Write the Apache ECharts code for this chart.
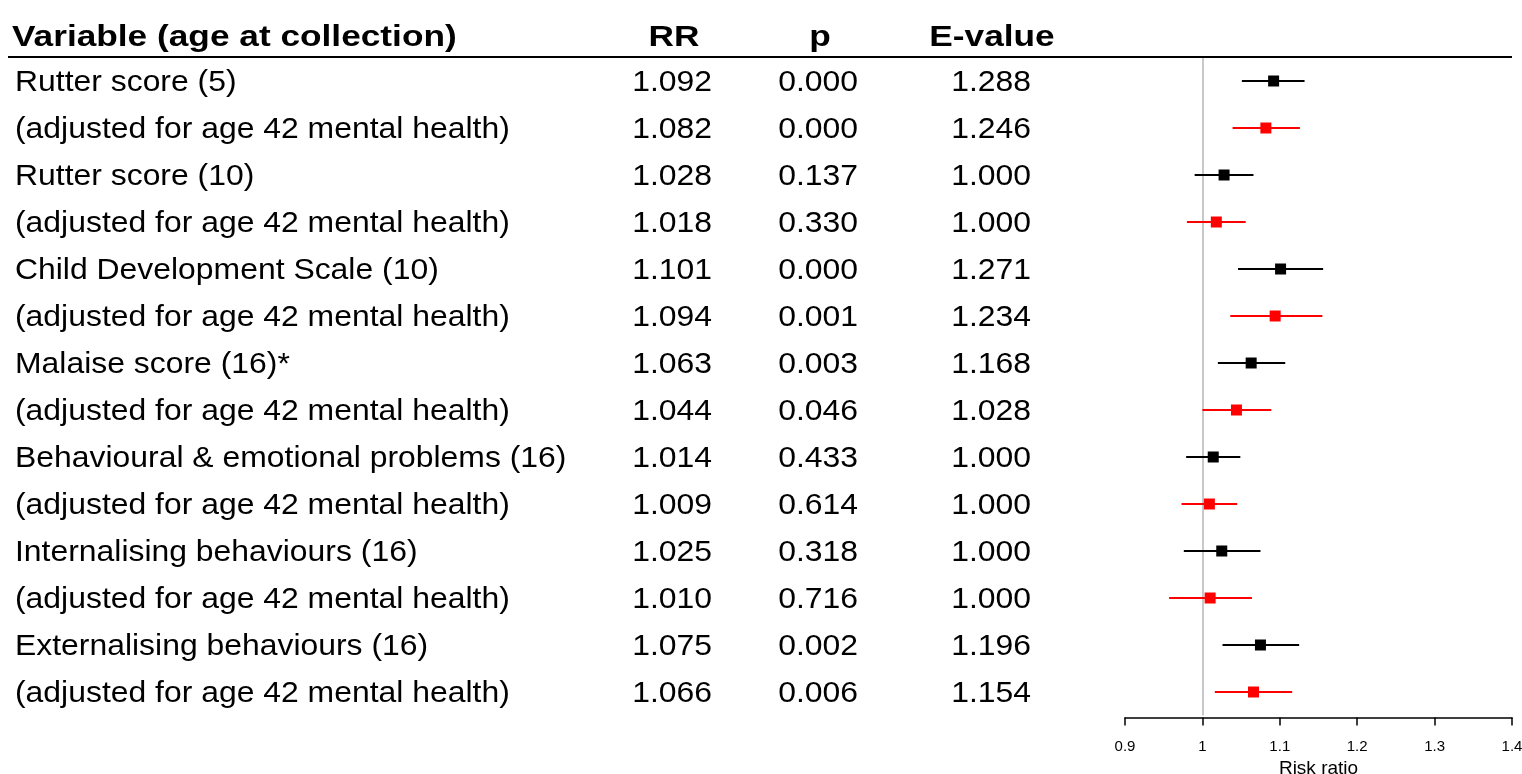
<!DOCTYPE html>
<html><head><meta charset="utf-8">
<script src="https://cdn.jsdelivr.net/npm/echarts@6/dist/echarts.min.js"></script>
<style>html,body{margin:0;padding:0;background:#fff}#c{width:1522px;height:774px}</style>
</head><body><div id="c"></div>
<script>
const headers = ['Variable (age at collection)', 'RR', 'p', 'E-value'];
const variables = [
  'Rutter score (5)',
  '(adjusted for age 42 mental health)',
  'Rutter score (10)',
  '(adjusted for age 42 mental health)',
  'Child Development Scale (10)',
  '(adjusted for age 42 mental health)',
  'Malaise score (16)*',
  '(adjusted for age 42 mental health)',
  'Behavioural & emotional problems (16)',
  '(adjusted for age 42 mental health)',
  'Internalising behaviours (16)',
  '(adjusted for age 42 mental health)',
  'Externalising behaviours (16)',
  '(adjusted for age 42 mental health)'
];
const rowType = ['crude','adjusted','crude','adjusted','crude','adjusted','crude','adjusted','crude','adjusted','crude','adjusted','crude','adjusted'];
const rr      = [1.092, 1.082, 1.028, 1.018, 1.101, 1.094, 1.063, 1.044, 1.014, 1.009, 1.025, 1.010, 1.075, 1.066];
const pValues = [0.000, 0.000, 0.137, 0.330, 0.000, 0.001, 0.003, 0.046, 0.433, 0.614, 0.318, 0.716, 0.002, 0.006];
const eValues = [1.288, 1.246, 1.000, 1.000, 1.271, 1.234, 1.168, 1.028, 1.000, 1.000, 1.000, 1.000, 1.196, 1.154];
const lower   = [1.051, 1.039, 0.990, 0.980, 1.046, 1.036, 1.020, 1.000, 0.979, 0.973, 0.976, 0.957, 1.026, 1.016];
const upper   = [1.132, 1.126, 1.066, 1.056, 1.156, 1.155, 1.107, 1.089, 1.049, 1.045, 1.075, 1.064, 1.125, 1.116];
const xTicks  = [0.9, 1.0, 1.1, 1.2, 1.3, 1.4];
const xName = 'Risk ratio';

const colors = {crude: '#000000', adjusted: '#ff0000'};
const FONT = "'Liberation Sans', Arial, Helvetica, sans-serif";
const rows = variables.map((v, i) => i);

const chart = echarts.init(document.getElementById('c'), null, {renderer: 'canvas'});

const gridTop = 57.5, gridH = 658;
const BODY_SCALE = 1.1, HEAD_SCALE = 1.175;

function textSeries(col, texts, align) {
  return {
    type: 'custom', xAxisIndex: 0, yAxisIndex: 0, silent: true,
    data: texts.map((t, i) => [col, i]),
    renderItem: function (params, api) {
      const pt = api.coord([api.value(0), api.value(1)]);
      return {
        type: 'text', x: pt[0], y: pt[1] + 2, scaleX: BODY_SCALE,
        style: {text: texts[params.dataIndex], align: align, verticalAlign: 'middle',
                fontFamily: FONT, fontSize: 29, fill: '#000'}
      };
    }
  };
}
const f3 = v => v.toFixed(3);
function headText(txt, x, align) {
  return {type: 'text', x: x, y: 37.5, scaleX: HEAD_SCALE,
    style: {text: txt, align: align, verticalAlign: 'middle', fontFamily: FONT,
            fontSize: 30, fontWeight: 'bold', fill: '#000'}};
}

const option = {
  animation: false,
  backgroundColor: '#fff',
  grid: [
    {left: 0, top: gridTop, width: 1100, height: gridH, outerBoundsMode: 'none', containLabel: false},
    {left: 1125, top: gridTop, width: 387, height: gridH, outerBoundsMode: 'none', containLabel: false}
  ],
  xAxis: [
    {gridIndex: 0, type: 'value', min: 0, max: 1100, show: false},
    {gridIndex: 1, type: 'value', min: xTicks[0], max: xTicks[xTicks.length - 1], interval: 0.1, offset: 2,
     axisLine: {show: true, lineStyle: {color: '#000', width: 1.5}},
     axisTick: {show: true, length: 8, lineStyle: {color: '#000', width: 1.5}},
     splitLine: {show: false},
     axisLabel: {fontFamily: FONT, fontSize: 15, color: '#000', margin: 22,
       formatter: v => String(Math.round(v * 10) / 10), showMinLabel: true, showMaxLabel: true},
     name: xName, nameLocation: 'middle', nameGap: 39,
     nameTextStyle: {fontFamily: FONT, fontSize: 19, color: '#000'}}
  ],
  yAxis: [
    {gridIndex: 0, type: 'category', data: rows, inverse: true, show: false},
    {gridIndex: 1, type: 'category', data: rows, inverse: true, show: false}
  ],
  graphic: [
    {type: 'line', shape: {x1: 8, y1: 57, x2: 1512, y2: 57}, style: {stroke: '#000', lineWidth: 2}, z: 10},
    headText(headers[0], 12, 'left'),
    headText(headers[1], 674, 'center'),
    headText(headers[2], 820, 'center'),
    headText(headers[3], 992, 'center')
  ],
  series: [
    textSeries(15, variables, 'left'),
    textSeries(712, rr.map(f3), 'right'),
    textSeries(858, pValues.map(f3), 'right'),
    textSeries(1031, eValues.map(f3), 'right'),
    {
      type: 'custom', xAxisIndex: 1, yAxisIndex: 1, silent: true,
      data: rows.map(i => [rr[i], i, lower[i], upper[i]]),
      encode: {x: [0, 2, 3], y: 1},
      renderItem: function (params, api) {
        const i = api.value(1);
        const c = colors[rowType[i]];
        const p = api.coord([api.value(0), i]);
        const lo = api.coord([api.value(2), i]);
        const hi = api.coord([api.value(3), i]);
        const s = 11;
        return {type: 'group', children: [
          {type: 'line', shape: {x1: lo[0], y1: lo[1], x2: hi[0], y2: hi[1]}, style: {stroke: c, lineWidth: 2}},
          {type: 'rect', shape: {x: p[0] - s / 2, y: p[1] - s / 2, width: s, height: s}, style: {fill: c}}
        ]};
      },
      markLine: {
        silent: true, symbol: 'none', label: {show: false},
        lineStyle: {color: '#c8c8c8', width: 2, type: 'solid'},
        data: [{xAxis: 1}]
      },
      z: 5
    }
  ]
};
chart.setOption(option);
</script>
</body></html>
